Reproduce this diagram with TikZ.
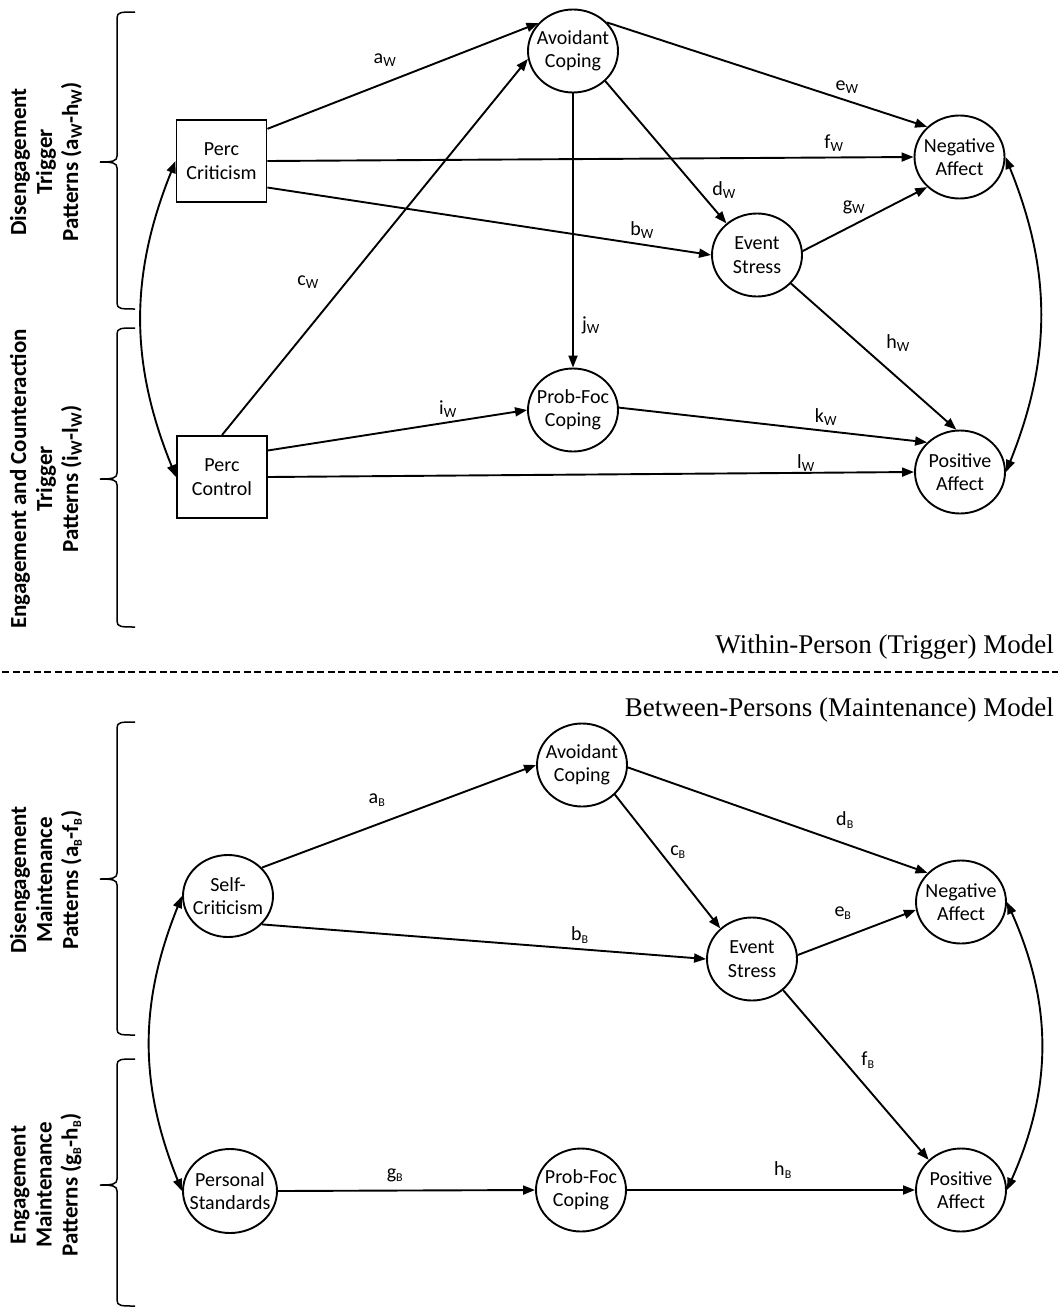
\documentclass[tikz,border=0pt]{standalone}
\usepackage{fontspec}
\setmainfont{Carlito}
\newfontfamily\modelfont{Liberation Serif}
\usetikzlibrary{arrows.meta,shapes.geometric}
\newcommand{\linewd}{1.9pt}
\newcommand{\nodefont}{\fontsize{20}{23.5}\selectfont}
\newcommand{\patternfont}{\fontsize{23}{26}\selectfont\bfseries}
\newcommand{\bsub}[1]{\textsubscript{\fontsize{12}{12}\selectfont #1}}
% top, tip, bottom of a brace
\newcommand{\patternbrace}[3]{%
\draw[line width=1.5pt] (135,#1) .. controls (121,#1) and (117,#1) .. (117,#1+6) -- (117,#2-6) .. controls (117,#2-1) and (113,#2) .. (100,#2) .. controls (113,#2) and (117,#2+1) .. (117,#2+6) -- (117,#3-6) .. controls (117,#3) and (121,#3) .. (135,#3);}

\begin{document}
\begin{tikzpicture}[x=1pt,y=-1pt,
  latent/.style={draw,ellipse,line width=\linewd,minimum width=90pt,minimum height=83pt,inner sep=-12pt,align=center,font=\nodefont},
  observed/.style={draw,rectangle,line width=\linewd,minimum width=90pt,minimum height=82pt,align=center,font=\nodefont},
  effect/.style={line width=\linewd,-{Triangle[length=12pt,width=9pt]}},
  covar/.style={line width=\linewd,{Triangle[length=12pt,width=9pt]}-{Triangle[length=12pt,width=9pt]}},
  coef/.style={font=\nodefont,inner sep=0pt},
  patterns/.style={rotate=90,align=center,font=\patternfont},
  model/.style={anchor=base east,inner sep=0pt,font=\modelfont\fontsize{27}{32}\selectfont}]
\useasboundingbox (0,0) rectangle (1058,1309);
%within-person
\node[observed] (PercCrit) at (221.5,161) {Perc\\Criticism};
\node[observed] (PercCtrl) at (222,477) {Perc\\Control};
\node[latent] (AvCope1) at (573,51) {Avoidant\\Coping};
\node[latent] (NegAff1) at (959.5,157) {Negative\\Affect};
\node[latent] (Event1) at (757,255) {Event\\Stress};
\node[latent] (ProbFoc1) at (573,410) {Prob-Foc\\Coping};
\node[latent] (PosAff1) at (960,472) {Positive\\Affect};
\draw[effect] (PercCrit.35) -- (AvCope1.141);
\draw[effect] (PercCtrl.north) -- (AvCope1.190);
\draw[effect] (AvCope1.40) -- (NegAff1.137);
\draw[effect] (PercCrit.east) -- (NegAff1.west);
\draw[effect] (PercCrit.-30) -- (Event1.west);
\draw[effect] (AvCope1.-43) -- (Event1.134);
\draw[effect] (Event1.5) -- (NegAff1.223);
\draw[effect] (Event1.-40) -- (PosAff1.95);
\draw[effect] (AvCope1.south) -- (ProbFoc1.north);
\draw[effect] (PercCtrl.30) -- (ProbFoc1.west);
\draw[effect] (ProbFoc1.3) -- (PosAff1.138);
\draw[effect] (PercCtrl.east) -- (PosAff1.west);
\draw[covar] (PercCrit.west) to[bend right=22] (PercCtrl.west);
\draw[covar] (NegAff1.east) to[bend left=22] (PosAff1.east);
\node[coef] (aW) at (385,60) {a\textsubscript{W}};
\node[coef] (bW) at (642,230) {b\textsubscript{W}};
\node[coef] (cW) at (308,282) {c\textsubscript{W}};
\node[coef] (dW) at (724,190) {d\textsubscript{W}};
\node[coef] (eW) at (847,87) {e\textsubscript{W}};
\node[coef] (fW) at (834,143) {f\textsubscript{W}};
\node[coef] (gW) at (854,207) {g\textsubscript{W}};
\node[coef] (hW) at (898,343) {h\textsubscript{W}};
\node[coef] (iW) at (448,409) {i\textsubscript{W}};
\node[coef] (jW) at (591,325) {j\textsubscript{W}};
\node[coef] (kW) at (826,417) {k\textsubscript{W}};
\node[coef] (lW) at (806,463) {l\textsubscript{W}};
\patternbrace{12}{162}{309}
\patternbrace{328}{479}{627}
\node[patterns] (DisTrig) at (46,162) {Disengagement\\Trigger\\Patterns (a\textsubscript{W}-h\textsubscript{W})};
\node[patterns] (EngTrig) at (46,479) {Engagement and Counteraction\\Trigger\\Patterns (i\textsubscript{W}-l\textsubscript{W})};
\node[model] (Within) at (1054,653) {Within-Person (Trigger) Model};
%separator
\draw[line width=2pt,dash pattern=on 7pt off 3.5pt] (2,672) -- (1058,672);
%between-persons
\node[model] (Between) at (1054,716) {Between-Persons (Maintenance) Model};
\node[latent,minimum width=90pt,minimum height=82pt] (SelfCrit) at (228,896) {Self-\\Criticism};
\node[latent,minimum width=94pt,minimum height=84pt] (PersStd) at (230,1191) {Personal\\Standards};
\node[latent] (AvCope2) at (582,765) {Avoidant\\Coping};
\node[latent] (NegAff2) at (961,902) {Negative\\Affect};
\node[latent] (Event2) at (752,959) {Event\\Stress};
\node[latent] (ProbFoc2) at (581,1190) {Prob-Foc\\Coping};
\node[latent] (PosAff2) at (961,1190) {Positive\\Affect};
\draw[effect] (SelfCrit.40) -- (AvCope2.west);
\draw[effect] (SelfCrit.-40) -- (Event2.west);
\draw[effect] (AvCope2.-42) -- (Event2.136);
\draw[effect] (AvCope2.-3) -- (NegAff2.139);
\draw[effect] (Event2.5) -- (NegAff2.190);
\draw[effect] (Event2.-45) -- (PosAff2.137);
\draw[effect] (PersStd.east) -- (ProbFoc2.west);
\draw[effect] (ProbFoc2.east) -- (PosAff2.west);
\draw[covar] (SelfCrit.west) to[bend right=22] (PersStd.west);
\draw[covar] (NegAff2.east) to[bend left=24] (PosAff2.east);
\node[coef] (aB) at (377,800) {a\bsub{B}};
\node[coef] (bB) at (580,935) {b\bsub{B}};
\node[coef] (cB) at (678,852) {c\bsub{B}};
\node[coef] (dB) at (845,820) {d\bsub{B}};
\node[coef] (eB) at (843,913) {e\bsub{B}};
\node[coef] (fB) at (868,1060) {f\bsub{B}};
\node[coef] (gB) at (395,1175) {g\bsub{B}};
\node[coef] (hB) at (783,1170) {h\bsub{B}};
\patternbrace{722}{879}{1035}
\patternbrace{1059}{1185}{1306}
\node[patterns] (DisMaint) at (46,880) {Disengagement\\Maintenance\\Patterns (a\bsub{B}-f\bsub{B})};
\node[patterns] (EngMaint) at (46,1185) {Engagement\\Maintenance\\Patterns (g\bsub{B}-h\bsub{B})};
\end{tikzpicture}
\end{document}
